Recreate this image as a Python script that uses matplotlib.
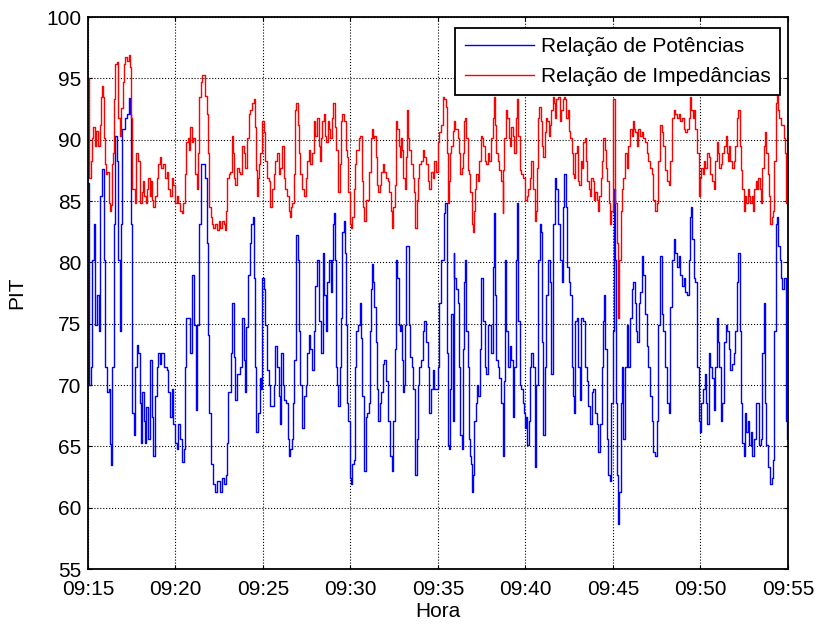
import numpy as np
import matplotlib.pyplot as plt

plt.rcParams['font.family'] = ['Liberation Sans', 'DejaVu Sans']

# time in minutes after 09:15
pot_t = [0.00, 0.03, 0.06, 0.15, 0.23, 0.32, 0.42, 0.52, 0.61, 0.69, 0.80, 0.90, 0.96, 1.07, 1.18, 1.26, 1.32,
         1.39, 1.49, 1.57, 1.64, 1.72, 1.81, 1.89, 1.97, 2.10, 2.22, 2.33, 2.41, 2.46, 2.52, 2.62, 2.71,
         2.79, 2.87, 2.96, 3.02, 3.11, 3.21, 3.27, 3.34, 3.44, 3.53, 3.63, 3.72, 3.82, 3.93, 4.01, 4.11,
         4.20, 4.34, 4.49, 4.58, 4.68, 4.78, 4.87, 4.97, 5.06, 5.16, 5.25, 5.35, 5.48, 5.54, 5.62, 5.83,
         5.92, 6.04, 6.15, 6.25, 6.34, 6.46, 6.70, 6.79, 6.83, 6.94, 7.02, 7.13, 7.27, 7.40, 7.52, 7.65,
         7.78, 7.86, 7.94, 7.98, 8.17, 8.22, 8.32, 8.41, 8.51, 8.70, 8.80, 8.89, 8.99, 9.04, 9.12, 9.24,
         9.33, 9.43, 9.50, 9.56, 9.62, 9.69, 9.81, 9.89, 9.94, 10.04, 10.13, 10.23, 10.32, 10.42, 10.61, 10.71,
         10.80, 10.90, 10.95, 11.05, 11.15, 11.22, 11.34, 11.41, 11.49, 11.57, 11.66, 11.72, 11.80, 11.87, 11.91, 11.99,
         12.04, 12.14, 12.23, 12.33, 12.43, 12.52, 12.62, 12.71, 12.81, 12.90, 13.00, 13.09, 13.20, 13.30, 13.43, 13.49,
         13.58, 13.68, 13.77, 13.87, 13.93, 14.00, 14.06, 14.12, 14.19, 14.25, 14.31, 14.38, 14.46, 14.54, 14.63, 14.69,
         14.73, 14.82, 14.88, 14.96, 15.03, 15.11, 15.21, 15.26, 15.34, 15.45, 15.53, 15.61, 15.68, 15.78, 15.87, 15.97,
         16.07, 16.12, 16.18, 16.22, 16.29, 16.37, 16.45, 16.50, 16.60, 16.68, 16.75, 16.83, 16.92, 17.02, 17.12, 17.17,
         17.25, 17.36, 17.44, 17.52, 17.59, 17.67, 17.75, 17.82, 17.88, 17.94, 18.01, 18.07, 18.13, 18.20, 18.32, 18.40,
         18.51, 18.59, 18.70, 18.78, 18.85, 18.93, 19.03, 19.12, 19.22, 19.31, 19.41, 19.50, 19.60, 19.69, 19.79, 19.98,
         20.08, 20.17, 20.32, 20.40, 20.52, 20.59, 20.65, 20.71, 20.75, 20.84, 20.90, 20.94, 21.03, 21.13, 21.22, 21.28,
         21.36, 21.41, 21.47, 21.55, 21.60, 21.70, 21.76, 21.81, 21.89, 21.95, 22.01, 22.08, 22.18, 22.23, 22.31, 22.41,
         22.48, 22.56, 22.66, 22.75, 22.85, 23.04, 23.13, 23.19, 23.27, 23.34, 23.42, 23.51, 23.61, 23.69, 23.76, 23.82,
         23.90, 23.99, 24.09, 24.18, 24.28, 24.37, 24.47, 24.53, 24.60, 24.68, 24.76, 24.85, 24.91, 24.99, 25.04, 25.10,
         25.18, 25.25, 25.33, 25.42, 25.52, 25.62, 25.71, 25.81, 25.86, 25.94, 26.00, 26.09, 26.19, 26.28, 26.38, 26.45,
         26.58, 26.68, 26.77, 26.87, 26.96, 27.06, 27.12, 27.19, 27.31, 27.38, 27.46, 27.54, 27.63, 27.69, 27.77, 27.82,
         27.92, 28.01, 28.11, 28.20, 28.30, 28.40, 28.49, 28.59, 28.68, 28.78, 28.87, 28.97, 29.06, 29.16, 29.26, 29.35,
         29.41, 29.48, 29.56, 29.64, 29.73, 29.83, 29.90, 29.98, 30.06, 30.11, 30.17, 30.25, 30.31, 30.36, 30.44, 30.52,
         30.59, 30.69, 30.78, 30.88, 30.97, 31.07, 31.17, 31.26, 31.32, 31.39, 31.47, 31.55, 31.64, 31.74, 31.83, 31.93,
         32.02, 32.12, 32.22, 32.31, 32.41, 32.50, 32.60, 32.69, 32.79, 32.88, 32.98, 33.09, 33.18, 33.28, 33.37, 33.47,
         33.56, 33.66, 33.75, 33.85, 33.95, 34.04, 34.14, 34.23, 34.33, 34.38, 34.46, 34.52, 34.61, 34.71, 34.80, 34.90,
         34.96, 35.03, 35.13, 35.24, 35.32, 35.40, 35.47, 35.57, 35.66, 35.76, 35.85, 35.95, 36.01, 36.08, 36.16, 36.24,
         36.33, 36.43, 36.52, 36.62, 36.71, 36.81, 36.91, 37.00, 37.10, 37.15, 37.23, 37.31, 37.38, 37.48, 37.54, 37.61,
         37.69, 37.77, 37.86, 37.96, 38.05, 38.15, 38.24, 38.34, 38.43, 38.53, 38.62, 38.68, 38.76, 38.87, 38.97, 39.06,
         39.14, 39.22, 39.29, 39.35, 39.45, 39.52, 39.60, 39.68, 39.77, 39.87, 39.96, 40.00]
pot_v = [86.5, 80.2, 70.0, 71.5, 80.2, 83.1, 74.9, 77.3, 74.4, 85.4, 87.6, 80.2, 71.5, 69.4, 69.7, 65.2, 63.5,
         71.5, 83.1, 90.3, 88.3, 80.2, 74.4, 83.1, 90.9, 91.8, 92.1, 93.4, 92.1, 83.1, 67.7, 65.9, 71.5,
         73.3, 72.6, 68.5, 65.3, 69.4, 67.1, 65.3, 68.2, 65.6, 72.0, 67.4, 64.2, 69.1, 71.5, 72.6, 71.7,
         72.6, 71.5, 71.2, 69.4, 67.4, 69.7, 66.8, 65.3, 64.8, 66.8, 65.6, 63.7, 64.8, 71.5, 75.5, 72.6,
         79.0, 74.9, 68.0, 74.9, 83.1, 88.0, 86.9, 81.6, 74.1, 67.7, 63.6, 61.9, 61.3, 62.2, 61.3, 62.4,
         61.9, 62.7, 65.3, 69.4, 72.6, 76.7, 72.3, 68.8, 70.9, 71.5, 75.5, 72.0, 69.4, 74.7, 79.0, 81.6,
         83.1, 83.7, 78.7, 71.5, 66.2, 67.7, 70.6, 69.7, 78.7, 77.8, 74.9, 71.2, 70.0, 68.3, 70.0, 73.2,
         71.5, 69.1, 66.8, 72.6, 70.0, 68.8, 68.5, 65.6, 64.2, 64.8, 65.6, 68.5, 72.0, 80.5, 82.2, 80.2,
         74.4, 70.0, 66.5, 69.1, 70.0, 72.6, 74.1, 72.9, 71.2, 74.4, 78.1, 80.2, 75.2, 72.6, 80.8, 77.3,
         74.4, 78.4, 80.2, 77.6, 80.2, 83.1, 84.0, 80.2, 71.5, 70.0, 68.3, 71.5, 75.5, 82.5, 83.4, 80.8,
         74.9, 68.5, 67.1, 62.4, 61.9, 63.6, 63.9, 71.5, 74.4, 74.9, 76.7, 73.8, 69.1, 63.0, 67.4, 67.7,
         68.5, 74.4, 77.8, 79.9, 78.4, 76.4, 73.5, 69.7, 67.1, 68.5, 69.4, 71.7, 72.0, 70.3, 69.7, 67.1,
         64.2, 63.0, 67.1, 72.9, 80.2, 78.7, 74.9, 74.4, 74.9, 72.0, 69.4, 70.0, 74.9, 81.3, 74.9, 72.3,
         71.5, 69.7, 62.7, 65.6, 70.0, 71.5, 72.0, 74.4, 75.2, 73.5, 71.5, 67.7, 69.7, 71.2, 69.7, 71.5,
         76.7, 80.2, 84.0, 84.8, 72.6, 65.1, 64.8, 69.7, 75.8, 67.1, 80.8, 78.7, 77.8, 76.7, 71.5, 65.9,
         64.8, 72.9, 78.4, 80.2, 74.4, 71.5, 65.6, 64.2, 63.6, 61.3, 62.7, 67.1, 68.5, 70.0, 69.1, 72.9,
         78.7, 75.2, 71.5, 70.9, 74.9, 72.6, 79.6, 84.0, 77.3, 72.0, 71.5, 70.6, 68.5, 64.2, 70.3, 80.2,
         74.4, 71.5, 73.2, 72.0, 67.4, 71.5, 80.2, 84.8, 75.2, 70.0, 69.7, 68.5, 67.7, 66.5, 67.4, 65.1,
         67.1, 71.5, 72.6, 71.5, 63.3, 70.0, 80.2, 83.1, 82.5, 73.5, 65.9, 71.5, 77.3, 80.2, 78.4, 70.9,
         83.1, 86.9, 86.0, 83.1, 80.2, 78.4, 84.5, 87.2, 84.5, 79.6, 78.4, 77.3, 71.5, 69.1, 67.7, 75.2,
         75.5, 71.5, 68.8, 75.5, 75.2, 71.5, 70.3, 68.3, 66.8, 69.4, 69.7, 67.7, 66.8, 64.5, 66.8, 71.5,
         75.2, 77.3, 72.9, 65.6, 62.7, 62.2, 68.5, 74.4, 86.0, 80.2, 68.5, 62.7, 58.7, 61.3, 68.5, 71.5,
         65.6, 71.5, 74.9, 71.5, 75.5, 77.8, 78.4, 76.7, 74.4, 73.5, 76.7, 77.6, 80.5, 79.0, 75.8, 73.2,
         71.5, 69.1, 67.1, 64.5, 64.2, 67.1, 74.9, 80.5, 75.8, 74.4, 71.5, 68.5, 67.7, 76.4, 80.2, 81.9,
         80.8, 79.6, 80.5, 79.0, 78.1, 78.7, 77.6, 77.3, 80.2, 83.7, 84.5, 81.9, 78.7, 78.4, 71.5, 67.1,
         66.2, 68.5, 69.7, 70.9, 68.5, 66.8, 72.6, 71.5, 70.6, 68.0, 71.5, 75.5, 73.5, 71.5, 67.1, 68.5,
         73.5, 74.9, 74.4, 72.9, 71.2, 71.7, 72.6, 74.4, 78.4, 80.8, 74.4, 68.5, 65.3, 64.2, 67.7, 66.2,
         67.1, 65.1, 66.2, 64.2, 65.6, 68.5, 68.5, 65.1, 65.6, 72.6, 76.7, 68.5, 65.1, 63.3, 61.9, 62.4,
         63.9, 74.4, 83.1, 83.7, 81.3, 80.2, 78.7, 77.8, 78.7, 67.1, 65.6, 66.8]

imp_t = [0.00, 0.03, 0.06, 0.15, 0.23, 0.29, 0.38, 0.48, 0.57, 0.67, 0.73, 0.80, 0.86, 0.92, 0.99, 1.05, 1.11,
         1.18, 1.24, 1.30, 1.38, 1.45, 1.49, 1.57, 1.64, 1.72, 1.81, 1.91, 1.99, 2.06, 2.14, 2.25, 2.33,
         2.41, 2.48, 2.54, 2.67, 2.77, 2.87, 2.96, 3.06, 3.15, 3.21, 3.29, 3.36, 3.44, 3.53, 3.59, 3.67,
         3.74, 3.82, 3.92, 4.01, 4.11, 4.20, 4.30, 4.39, 4.49, 4.58, 4.68, 4.78, 4.87, 4.97, 5.06, 5.16,
         5.25, 5.35, 5.44, 5.54, 5.60, 5.69, 5.77, 5.84, 5.92, 6.02, 6.11, 6.21, 6.26, 6.34, 6.46, 6.53,
         6.70, 6.79, 6.85, 6.89, 6.94, 7.02, 7.08, 7.17, 7.27, 7.36, 7.46, 7.56, 7.65, 7.75, 7.84, 7.90,
         7.94, 8.03, 8.13, 8.22, 8.28, 8.36, 8.41, 8.51, 8.61, 8.70, 8.80, 8.89, 8.99, 9.08, 9.18, 9.27,
         9.37, 9.47, 9.52, 9.60, 9.66, 9.71, 9.75, 9.85, 9.94, 10.04, 10.13, 10.23, 10.32, 10.42, 10.52, 10.61,
         10.71, 10.80, 10.90, 10.99, 11.09, 11.18, 11.28, 11.38, 11.47, 11.53, 11.60, 11.68, 11.76, 11.81, 11.89, 11.99,
         12.06, 12.14, 12.23, 12.33, 12.43, 12.52, 12.62, 12.71, 12.81, 12.90, 13.00, 13.09, 13.20, 13.26, 13.31, 13.39,
         13.47, 13.54, 13.62, 13.70, 13.77, 13.85, 13.93, 14.00, 14.08, 14.12, 14.19, 14.27, 14.31, 14.38, 14.44, 14.50,
         14.58, 14.65, 14.73, 14.80, 14.88, 14.96, 15.03, 15.11, 15.19, 15.26, 15.34, 15.42, 15.49, 15.57, 15.64, 15.72,
         15.80, 15.87, 15.97, 16.07, 16.16, 16.22, 16.29, 16.37, 16.45, 16.52, 16.60, 16.68, 16.75, 16.83, 16.92, 17.02,
         17.12, 17.21, 17.29, 17.36, 17.44, 17.52, 17.59, 17.67, 17.75, 17.82, 17.88, 17.94, 18.01, 18.09, 18.17, 18.22,
         18.28, 18.36, 18.45, 18.55, 18.62, 18.70, 18.78, 18.85, 18.93, 19.03, 19.12, 19.22, 19.31, 19.41, 19.50, 19.60,
         19.69, 19.79, 19.89, 19.98, 20.08, 20.17, 20.27, 20.36, 20.46, 20.52, 20.55, 20.61, 20.67, 20.75, 20.84, 20.90,
         20.97, 21.05, 21.13, 21.20, 21.28, 21.36, 21.43, 21.51, 21.57, 21.62, 21.70, 21.78, 21.85, 21.93, 21.99, 22.04,
         22.12, 22.20, 22.27, 22.35, 22.43, 22.50, 22.58, 22.66, 22.75, 22.85, 22.94, 23.04, 23.13, 23.19, 23.27, 23.34,
         23.42, 23.51, 23.61, 23.69, 23.74, 23.80, 23.86, 23.93, 24.03, 24.11, 24.18, 24.28, 24.37, 24.45, 24.51, 24.57,
         24.66, 24.76, 24.85, 24.95, 25.00, 25.08, 25.14, 25.23, 25.33, 25.42, 25.52, 25.58, 25.63, 25.71, 25.79, 25.86,
         25.94, 26.02, 26.09, 26.17, 26.25, 26.33, 26.40, 26.47, 26.57, 26.62, 26.70, 26.77, 26.87, 26.96, 27.04, 27.12,
         27.19, 27.27, 27.34, 27.42, 27.50, 27.57, 27.63, 27.69, 27.77, 27.84, 27.92, 27.99, 28.07, 28.15, 28.22, 28.30,
         28.38, 28.45, 28.53, 28.61, 28.68, 28.76, 28.84, 28.91, 28.99, 29.06, 29.14, 29.22, 29.29, 29.37, 29.45, 29.52,
         29.60, 29.68, 29.75, 29.83, 29.90, 29.98, 30.02, 30.11, 30.21, 30.31, 30.36, 30.44, 30.50, 30.59, 30.69, 30.78,
         30.88, 30.97, 31.07, 31.13, 31.20, 31.28, 31.36, 31.45, 31.55, 31.64, 31.74, 31.83, 31.93, 32.02, 32.12, 32.22,
         32.31, 32.41, 32.50, 32.60, 32.69, 32.79, 32.88, 32.98, 33.09, 33.18, 33.28, 33.37, 33.47, 33.56, 33.66, 33.75,
         33.85, 33.95, 34.04, 34.14, 34.23, 34.33, 34.38, 34.48, 34.56, 34.63, 34.71, 34.80, 34.90, 34.96, 35.03, 35.13,
         35.21, 35.28, 35.38, 35.47, 35.57, 35.66, 35.76, 35.85, 35.95, 36.01, 36.08, 36.16, 36.24, 36.33, 36.43, 36.49,
         36.56, 36.62, 36.71, 36.81, 36.91, 37.00, 37.10, 37.15, 37.23, 37.31, 37.38, 37.46, 37.54, 37.61, 37.69, 37.77,
         37.84, 37.92, 38.00, 38.07, 38.15, 38.22, 38.30, 38.38, 38.45, 38.53, 38.61, 38.68, 38.76, 38.83, 38.91, 38.99,
         39.06, 39.14, 39.22, 39.29, 39.35, 39.43, 39.50, 39.58, 39.68, 39.75, 39.83, 39.90, 39.98, 40.00]
imp_v = [95.0, 91.0, 86.9, 88.3, 90.1, 91.0, 89.5, 90.7, 89.5, 91.2, 93.5, 94.4, 93.5, 90.1, 88.0, 87.2, 87.4,
         84.8, 84.2, 84.7, 88.0, 88.9, 93.3, 96.2, 96.3, 91.8, 90.3, 92.6, 94.7, 96.2, 96.7, 96.4, 96.9,
         95.9, 91.8, 86.0, 84.8, 88.9, 88.3, 84.8, 85.7, 86.6, 85.4, 84.8, 86.0, 86.9, 85.4, 86.6, 85.1,
         84.5, 85.4, 86.9, 88.0, 88.6, 87.7, 88.0, 86.9, 87.4, 86.0, 85.4, 86.9, 86.3, 84.8, 85.4, 84.8,
         84.2, 84.0, 84.8, 87.2, 89.8, 90.1, 89.2, 91.0, 89.8, 90.1, 87.2, 86.0, 88.9, 93.5, 94.7, 95.3,
         93.6, 92.1, 88.9, 86.0, 84.5, 83.7, 83.1, 82.8, 83.1, 82.6, 83.4, 82.8, 83.4, 83.1, 82.6, 84.2,
         86.9, 87.2, 87.4, 90.3, 88.9, 86.9, 86.3, 87.7, 87.4, 87.2, 89.5, 88.9, 87.7, 90.1, 92.1, 92.4,
         93.0, 93.3, 91.0, 87.5, 85.4, 86.9, 88.0, 88.9, 91.5, 90.6, 88.3, 86.9, 86.6, 84.5, 86.0, 87.2,
         88.3, 88.9, 87.2, 87.7, 89.5, 86.9, 86.0, 85.4, 84.2, 83.7, 84.5, 84.8, 87.2, 92.4, 93.0, 91.2,
         88.9, 87.2, 86.0, 85.4, 86.9, 88.3, 89.2, 88.0, 88.9, 91.5, 90.3, 91.8, 89.5, 88.3, 90.1, 91.5,
         92.1, 90.3, 89.8, 91.5, 90.9, 90.1, 91.8, 93.0, 93.0, 91.0, 89.2, 86.6, 85.7, 88.0, 91.5, 92.1,
         92.1, 91.5, 89.2, 88.6, 85.7, 83.1, 82.8, 83.7, 86.0, 88.0, 89.2, 89.2, 90.1, 90.3, 86.6, 84.5,
         83.4, 85.1, 85.1, 87.4, 90.1, 90.9, 90.1, 90.3, 88.6, 86.3, 85.7, 86.3, 87.4, 88.0, 87.4, 86.9,
         86.6, 85.7, 84.2, 82.8, 84.5, 86.3, 91.5, 90.9, 89.5, 88.6, 90.1, 89.2, 86.9, 86.0, 88.6, 92.4,
         90.1, 89.2, 88.0, 86.9, 85.7, 82.8, 85.1, 86.9, 88.0, 88.3, 89.2, 88.6, 88.0, 86.6, 86.0, 87.4,
         86.9, 88.3, 87.4, 89.8, 90.6, 91.2, 93.5, 93.3, 92.7, 88.9, 84.8, 86.6, 88.9, 89.5, 90.7, 91.5,
         90.9, 90.9, 90.1, 88.9, 87.2, 87.7, 88.9, 91.5, 91.8, 90.1, 87.5, 87.2, 85.7, 83.1, 82.5, 84.2,
         86.0, 87.2, 86.6, 88.3, 90.3, 90.1, 89.5, 88.3, 88.0, 88.9, 88.3, 90.1, 91.8, 93.5, 91.2, 88.9,
         88.3, 87.5, 86.6, 84.0, 87.5, 90.1, 92.4, 91.8, 90.1, 89.5, 91.0, 90.3, 88.9, 91.8, 93.3, 90.3,
         87.5, 87.2, 86.9, 86.0, 85.1, 85.4, 86.0, 86.9, 88.3, 86.0, 83.4, 84.2, 87.7, 91.8, 92.7, 91.5,
         89.5, 88.6, 90.6, 91.8, 91.5, 90.3, 91.2, 92.4, 93.5, 93.0, 91.8, 93.3, 93.5, 91.5, 92.4, 93.3,
         93.5, 93.3, 91.8, 92.4, 90.7, 90.1, 88.9, 87.2, 86.9, 88.9, 89.5, 86.6, 86.3, 88.3, 87.7, 89.8,
         90.1, 88.3, 86.6, 86.0, 85.4, 86.9, 86.6, 85.1, 85.7, 85.1, 84.2, 85.4, 86.9, 88.3, 90.1, 89.2,
         87.7, 86.6, 84.8, 83.1, 84.2, 88.9, 93.3, 84.8, 81.6, 75.5, 80.2, 84.2, 86.0, 86.9, 88.9, 87.7,
         89.5, 90.9, 90.3, 91.5, 90.9, 90.6, 89.5, 90.9, 90.3, 90.6, 90.1, 89.8, 88.9, 88.3, 87.7, 87.2,
         85.1, 84.2, 84.8, 88.3, 91.2, 90.6, 89.5, 87.5, 86.6, 86.3, 88.3, 91.8, 92.4, 92.1, 91.8, 92.1,
         91.5, 91.8, 90.9, 90.6, 90.9, 91.8, 93.5, 92.4, 91.8, 92.4, 90.9, 88.9, 85.4, 86.9, 87.7, 87.2,
         88.3, 87.7, 88.9, 88.6, 87.2, 86.6, 86.0, 88.3, 89.8, 88.9, 87.7, 88.0, 88.9, 89.5, 90.3, 88.9,
         88.3, 89.5, 88.3, 87.7, 88.3, 89.5, 91.8, 92.4, 89.5, 87.5, 86.0, 84.2, 85.4, 84.8, 86.0, 85.4,
         84.8, 85.4, 84.2, 86.0, 86.6, 86.0, 86.9, 86.0, 84.8, 87.7, 89.5, 90.6, 88.9, 87.2, 85.4, 83.1,
         83.7, 84.2, 88.3, 93.0, 94.1, 92.4, 91.8, 91.2, 91.2, 90.1, 88.9, 84.8, 84.5, 85.4]

hour_labels = ['09:15', '09:20', '09:25', '09:30', '09:35', '09:40', '09:45', '09:50', '09:55']
hour_pos = [(int(h[:2]) - 9) * 60 + int(h[3:]) - 15 for h in hour_labels]

fig = plt.figure(figsize=(8.17, 6.28), dpi=100)
ax = fig.add_axes([0.1077, 0.0939, 0.8568, 0.879])

ax.plot(pot_t, pot_v, color='blue', lw=1.0, drawstyle='steps-post', label='Relação de Potências')
ax.plot(imp_t, imp_v, color='red', lw=1.0, drawstyle='steps-post', label='Relação de Impedâncias')

ax.set_xlim(0, 40)
ax.set_ylim(55, 100)
ax.set_xticks(hour_pos)
ax.set_xticklabels(hour_labels)
ax.set_yticks(np.arange(55, 101, 5))
ax.tick_params(direction='in', top=True, right=True, labelsize=15, length=3, width=0.8)
ax.tick_params(axis='y', pad=5)
ax.tick_params(axis='x', pad=8)
ax.grid(True, color='black', linestyle=':', linewidth=0.8)
for s in ax.spines.values():
    s.set_linewidth(1.3)

ax.set_xlabel('Hora', fontsize=15, labelpad=2)
ax.set_ylabel('PIT', fontsize=15, labelpad=14)

leg = ax.legend(loc='upper right', bbox_to_anchor=(0.9886, 0.980), borderaxespad=0,
                fontsize=15, framealpha=1, fancybox=False, edgecolor='black',
                handlelength=3.3, handletextpad=0.35, borderpad=0.45, labelspacing=0.5)
leg.get_frame().set_linewidth(1.3)

fig.savefig('out.png', dpi=100)
